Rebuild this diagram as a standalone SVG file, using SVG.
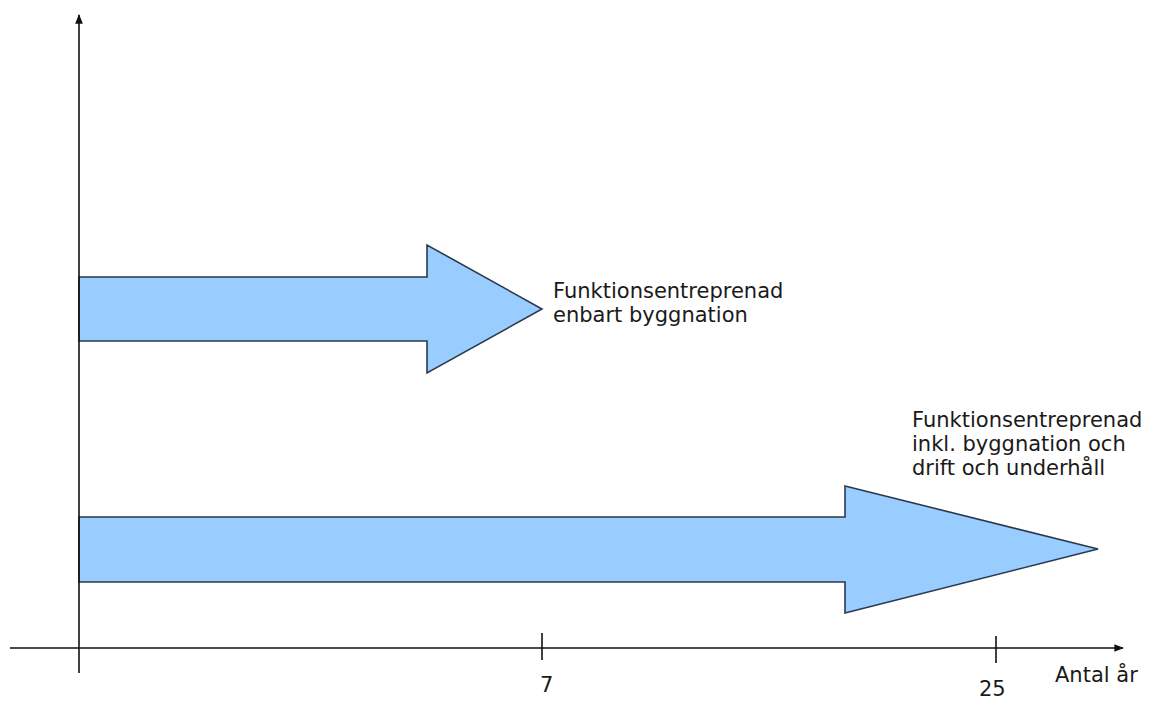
<svg xmlns="http://www.w3.org/2000/svg" width="1159" height="702" viewBox="0 0 1159 702">
  <style>
    .axis { stroke: #111; stroke-width: 1.6; fill: none; }
    .bar { fill: #99ccff; stroke: #2a3a4c; stroke-width: 1.6; stroke-linejoin: miter; }
    .lbl { font-family: "DejaVu Sans", Verdana, sans-serif; font-size: 21px; fill: #1a1a1a; }
  </style>
  <defs>
    <marker id="tip" viewBox="0 0 10 10" refX="9" refY="5" markerWidth="6" markerHeight="6" orient="auto" markerUnits="strokeWidth">
      <path d="M0,1 L10,5 L0,9 Z" fill="#111"/>
    </marker>
  </defs>
  <rect width="1159" height="702" fill="#ffffff"/>

  <!-- bars -->
  <g id="bar-build">
    <polygon class="bar" points="79,277 427,277 427,245 542,309 427,373 427,341 79,341"/>
    <text class="lbl" x="553" y="298">Funktionsentreprenad</text>
    <text class="lbl" x="553" y="322">enbart byggnation</text>
  </g>
  <g id="bar-full">
    <polygon class="bar" points="79,517 845,517 845,486 1098,549 845,613 845,582 79,582"/>
    <text class="lbl" x="912" y="427">Funktionsentreprenad</text>
    <text class="lbl" x="912" y="451">inkl. byggnation och</text>
    <text class="lbl" x="912" y="475">drift och underhåll</text>
  </g>

  <!-- axes -->
  <g id="axes">
    <line class="axis" x1="79" y1="673" x2="79" y2="15" marker-end="url(#tip)"/>
    <line class="axis" x1="10" y1="648" x2="1123" y2="648" marker-end="url(#tip)"/>
    <line class="axis" x1="542" y1="633" x2="542" y2="660"/>
    <line class="axis" x1="996" y1="636" x2="996" y2="663"/>
    <text class="lbl" x="540" y="692">7</text>
    <text class="lbl" x="979" y="696">25</text>
    <text class="lbl" x="1055" y="682">Antal år</text>
  </g>
</svg>
